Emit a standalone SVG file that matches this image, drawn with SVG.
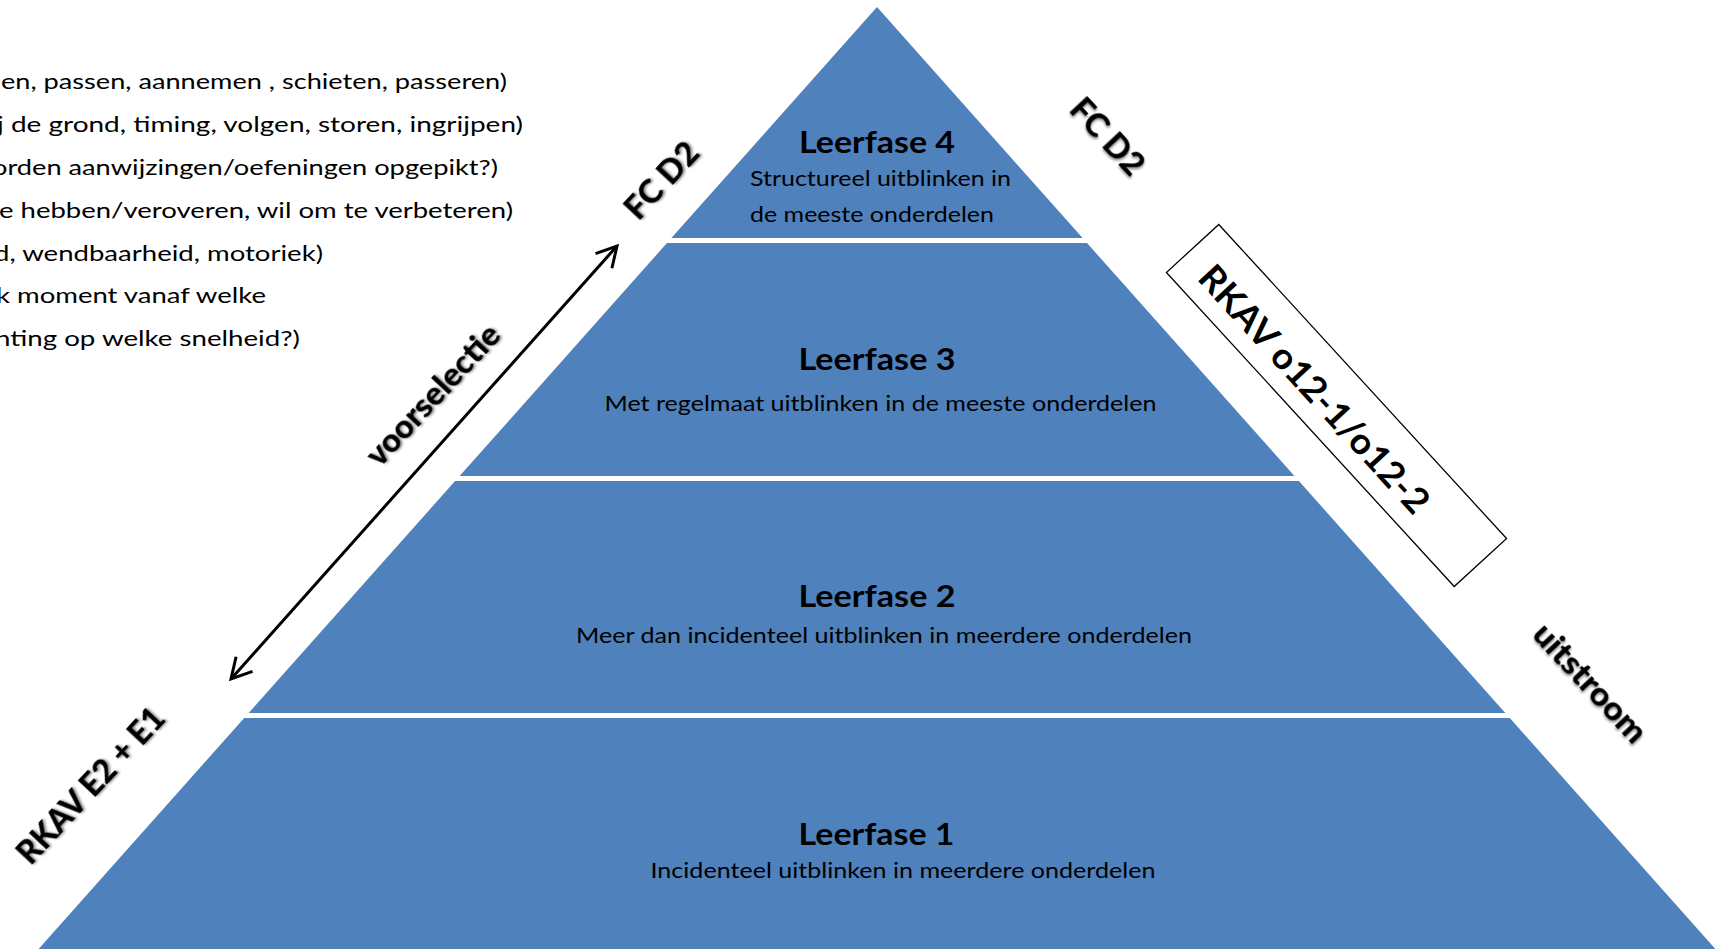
<svg xmlns="http://www.w3.org/2000/svg" width="1725" height="949" viewBox="0 0 1725 949">
  <style>
    .band { fill: #4f81bd; }
    .txt { font-family: Lato, "Liberation Sans", sans-serif; fill: #000; }
    .list { font-size: 22px; }
    .head { font-size: 31px; font-weight: bold; text-anchor: middle; }
    .sub { font-size: 22px; }
    .lbl { font-size: 33px; font-weight: 900; text-anchor: middle; filter: url(#shadow); }
  </style>
  <defs>
    <filter id="shadow" x="-20%" y="-50%" width="140%" height="200%">
      <feDropShadow dx="1.5" dy="1.5" stdDeviation="1.2" flood-color="#000" flood-opacity="0.45"/>
    </filter>
    <marker id="open" viewBox="-24 -14 28 28" markerWidth="28" markerHeight="28" refX="0" refY="0" orient="auto-start-reverse" markerUnits="userSpaceOnUse">
      <path d="M -20 -11 L 0 0 L -20 11" fill="none" stroke="#000" stroke-width="3"/>
    </marker>
  </defs>

  <g id="criteria-list" class="txt list">
    <text x="507" y="89" text-anchor="end" textLength="506" lengthAdjust="spacingAndGlyphs">en, passen, aannemen , schieten, passeren)</text>
    <text x="523" y="132" text-anchor="end" textLength="526" lengthAdjust="spacingAndGlyphs">j de grond, timing, volgen, storen, ingrijpen)</text>
    <text x="498" y="175" text-anchor="end" textLength="506" lengthAdjust="spacingAndGlyphs">orden aanwijzingen/oefeningen opgepikt?)</text>
    <text x="513" y="218" text-anchor="end" textLength="514" lengthAdjust="spacingAndGlyphs">e hebben/veroveren, wil om te verbeteren)</text>
    <text x="323" y="261" text-anchor="end" textLength="329" lengthAdjust="spacingAndGlyphs">d, wendbaarheid, motoriek)</text>
    <text x="266" y="303" text-anchor="end" textLength="270" lengthAdjust="spacingAndGlyphs">k moment vanaf welke</text>
    <text x="300" y="346" text-anchor="end" textLength="305" lengthAdjust="spacingAndGlyphs">hting op welke snelheid?)</text>
  </g>

  <g id="leerfase-4">
    <polygon class="band" points="877,7 1082.6,238 671.4,238"/>
    <text class="txt head" x="877" y="153" textLength="156" lengthAdjust="spacingAndGlyphs">Leerfase 4</text>
    <text class="txt sub" x="750" y="186" textLength="261" lengthAdjust="spacingAndGlyphs">Structureel uitblinken in</text>
    <text class="txt sub" x="750" y="222" textLength="244" lengthAdjust="spacingAndGlyphs">de meeste onderdelen</text>
  </g>

  <g id="leerfase-3">
    <polygon class="band" points="667,243 1087,243 1294.4,476 459.6,476"/>
    <text class="txt head" x="877" y="370" textLength="157" lengthAdjust="spacingAndGlyphs">Leerfase 3</text>
    <text class="txt sub" x="604.5" y="411" textLength="552" lengthAdjust="spacingAndGlyphs">Met regelmaat uitblinken in de meeste onderdelen</text>
  </g>

  <g id="leerfase-2">
    <polygon class="band" points="455.1,481 1298.9,481 1505.3,713 248.7,713"/>
    <text class="txt head" x="877" y="607" textLength="157" lengthAdjust="spacingAndGlyphs">Leerfase 2</text>
    <text class="txt sub" x="576" y="643" textLength="616" lengthAdjust="spacingAndGlyphs">Meer dan incidenteel uitblinken in meerdere onderdelen</text>
  </g>

  <g id="leerfase-1">
    <polygon class="band" points="244.2,718 1509.8,718 1715.4,949 38.6,949"/>
    <text class="txt head" x="876.5" y="845" textLength="156" lengthAdjust="spacingAndGlyphs">Leerfase 1</text>
    <text class="txt sub" x="650.5" y="878" textLength="505" lengthAdjust="spacingAndGlyphs">Incidenteel uitblinken in meerdere onderdelen</text>
  </g>

  <g id="connectors">
    <line x1="231" y1="679" x2="617" y2="246" stroke="#000" stroke-width="3" marker-start="url(#open)" marker-end="url(#open)"/>
  </g>

  <g id="label-voorselectie" transform="translate(433,395) rotate(-47)">
    <text class="txt lbl" x="0" y="11" textLength="180" lengthAdjust="spacingAndGlyphs">voorselectie</text>
  </g>
  <g id="label-fcd2-left" transform="translate(661,180) rotate(-47)">
    <text class="txt lbl" x="0" y="12" textLength="92" lengthAdjust="spacingAndGlyphs">FC D2</text>
  </g>
  <g id="label-rkav-e2-e1" transform="translate(90,785) rotate(-47)">
    <text class="txt lbl" x="0" y="12" textLength="200" lengthAdjust="spacingAndGlyphs">RKAV E2 + E1</text>
  </g>
  <g id="label-fcd2-right" transform="translate(1108,136) rotate(47)">
    <text class="txt lbl" x="0" y="12" textLength="92" lengthAdjust="spacingAndGlyphs">FC D2</text>
  </g>
  <g id="label-uitstroom" transform="translate(1590,683) rotate(47)">
    <text class="txt lbl" x="0" y="11" textLength="150" lengthAdjust="spacingAndGlyphs">uitstroom</text>
  </g>
  <g id="label-rkav-o12" transform="translate(1336.5,405.5) rotate(47.5)">
    <rect x="-213" y="-35.5" width="426" height="71" fill="#fff" stroke="#000" stroke-width="1.3"/>
    <text class="txt" x="-27" y="18" font-size="36" font-weight="bold" text-anchor="middle" textLength="322" lengthAdjust="spacingAndGlyphs">RKAV o12-1/o12-2</text>
  </g>
</svg>
